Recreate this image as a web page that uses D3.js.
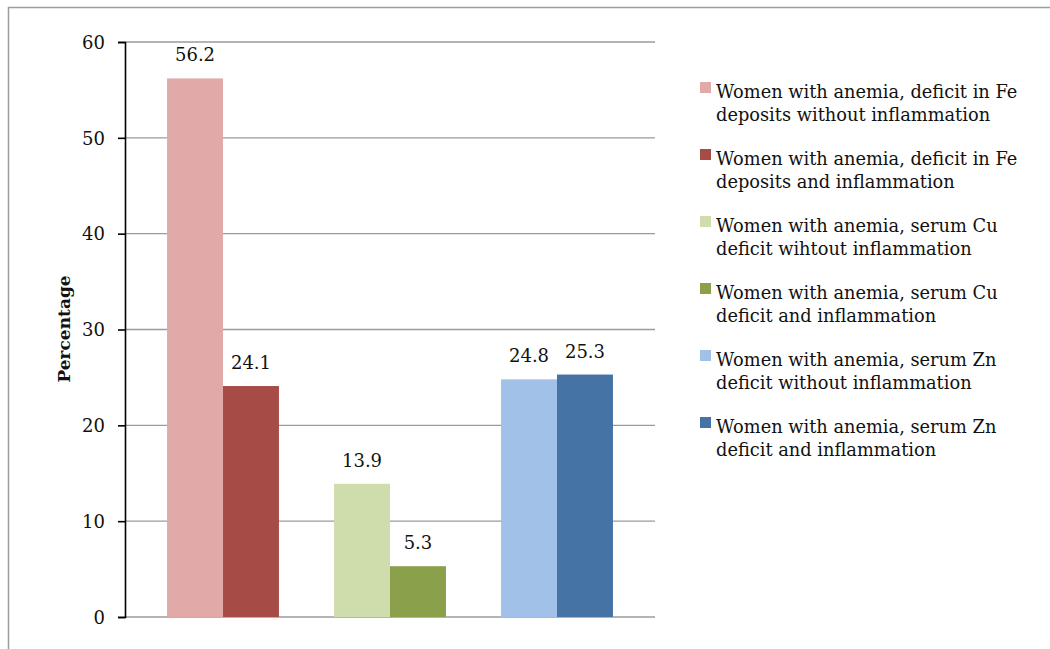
<!DOCTYPE html>
<html>
<head>
<meta charset="utf-8">
<script src="https://cdn.jsdelivr.net/npm/d3@7"></script>
<style>
  body { margin: 0; background: #fff; }
  text { font-family: "DejaVu Serif", serif; fill: #111; }
</style>
</head>
<body>
<div id="graph"></div>
<script>

// data
var seriesNames = [
  ["Women with anemia, deficit in Fe", "deposits without inflammation"],
  ["Women with anemia, deficit in Fe", "deposits and inflammation"],
  ["Women with anemia, serum Cu", "deficit wihtout inflammation"],
  ["Women with anemia, serum Cu", "deficit and inflammation"],
  ["Women with anemia, serum Zn", "deficit without inflammation"],
  ["Women with anemia, serum Zn", "deficit and inflammation"]
];
var seriesColors = ["#e1a9a8", "#a64b45", "#cfddac", "#8ba04b", "#a1c1e8", "#4573a5"];
var groups = ["Fe", "Cu", "Zn"];
// two bars per group: [without inflammation, with inflammation]
var values = [[56.2, 24.1], [13.9, 5.3], [24.8, 25.3]];
var yTicks = [0, 10, 20, 30, 40, 50, 60];

var width = 1050, height = 649;

var svg = d3.select("#graph")
  .append("svg")
    .attr("width", width)
    .attr("height", height);

// outer frame (cropped on the right and bottom)
svg.append("path")
  .attr("d", "M8.5," + height + "V7.5H" + width)
  .attr("fill", "none")
  .attr("stroke", "#9d9d9d")
  .attr("stroke-width", 1.5);

var plotLeft = 125, plotRight = 655;

var y = d3.scaleLinear()
  .domain([0, 60])
  .range([617, 42]);

var x0 = d3.scaleBand()
  .domain(groups)
  .range([139.5, 640.5])
  .paddingInner(0.33)
  .paddingOuter(0.165);

var x1 = d3.scaleBand()
  .domain([0, 1])
  .range([0, x0.bandwidth()]);

// gridlines
svg.append("g")
  .selectAll("line")
  .data(yTicks)
  .enter()
  .append("line")
    .attr("x1", plotLeft)
    .attr("x2", plotRight)
    .attr("y1", function(d) { return y(d); })
    .attr("y2", function(d) { return y(d); })
    .attr("stroke", "#9b9b9b")
    .attr("stroke-width", 1.3);

// bars
var gGroups = svg.append("g")
  .selectAll("g")
  .data(values)
  .enter()
  .append("g")
    .attr("transform", function(d, i) { return "translate(" + x0(groups[i]) + ",0)"; });

gGroups.each(function(vals, gi) {
  var g = d3.select(this);
  g.selectAll("rect")
    .data(vals)
    .enter()
    .append("rect")
      .attr("x", function(d, j) { return x1(j); })
      .attr("y", function(d) { return y(d); })
      .attr("width", x1.bandwidth())
      .attr("height", function(d) { return y(0) - y(d); })
      .attr("fill", function(d, j) { return seriesColors[gi * 2 + j]; });

  g.selectAll("text")
    .data(vals)
    .enter()
    .append("text")
      .attr("x", function(d, j) { return x1(j) + x1.bandwidth() / 2; })
      .attr("y", function(d) { return y(d) - 17; })
      .attr("text-anchor", "middle")
      .style("font-size", "18px")
      .text(function(d) { return d.toFixed(1); });
});

// Y axis
var yAxis = svg.append("g")
  .attr("transform", "translate(" + plotLeft + ",0)")
  .call(d3.axisLeft(y).tickValues(yTicks).tickSize(7).tickPadding(13));
yAxis.select(".domain").attr("stroke", "#000").attr("stroke-width", 1.6);
yAxis.selectAll(".tick line").attr("stroke", "#000").attr("stroke-width", 1.6);
yAxis.selectAll(".tick text")
  .style("font-family", "DejaVu Serif, serif")
  .style("font-size", "18px")
  .attr("fill", "#111")
  .attr("dy", "0.35em");

// Y axis label
svg.append("text")
  .attr("transform", "translate(70,329) rotate(-90)")
  .attr("text-anchor", "middle")
  .style("font-size", "17px")
  .style("font-weight", "bold")
  .text("Percentage");

// legend
var legend = svg.append("g")
  .selectAll("g")
  .data(seriesNames)
  .enter()
  .append("g")
    .attr("transform", function(d, i) { return "translate(700," + (98 + i * 67) + ")"; });

legend.append("rect")
  .attr("x", 0)
  .attr("y", -16)
  .attr("width", 11)
  .attr("height", 11)
  .attr("fill", function(d, i) { return seriesColors[i]; });

legend.append("text")
  .attr("x", 16)
  .attr("y", 0)
  .style("font-size", "17.8px")
  .each(function(d) {
    var t = d3.select(this);
    d.forEach(function(line, k) {
      t.append("tspan")
        .attr("x", 16)
        .attr("y", k * 23)
        .text(line);
    });
  });

</script>
</body>
</html>
